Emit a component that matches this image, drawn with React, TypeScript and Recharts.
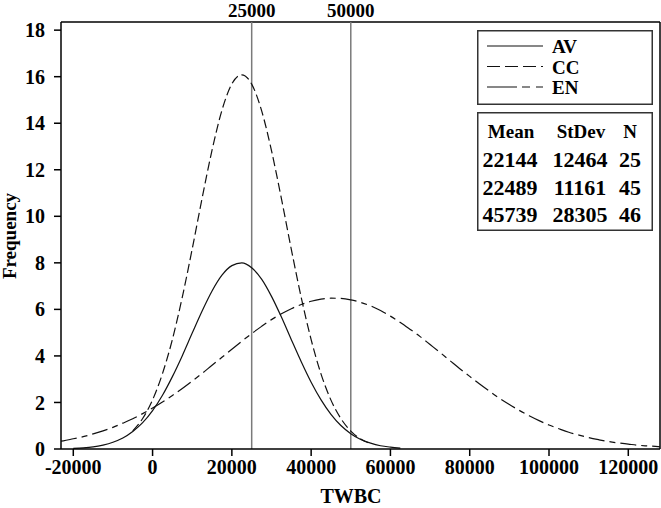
import { LineChart, Line, XAxis, YAxis, ReferenceLine, Label } from "recharts";

// TWBC positions, one list per group
const avTwbc = [
  -20000, -17500, -15000, -12500, -10000, -7500, -5000, -2500, 0, 2500, 5000, 7500,
  10000, 12500, 15000, 17500, 20000, 22500, 25000, 27500, 30000, 32500, 35000, 37500,
  40000, 42500, 45000, 47500, 50000, 52500, 55000, 57500, 60000, 62500,
];
const avFreq = [
  0.03, 0.05, 0.09, 0.17, 0.29, 0.47, 0.75, 1.13, 1.65, 2.31, 3.11, 4.01,
  4.98, 5.93, 6.79, 7.47, 7.88, 8.0, 7.79, 7.3, 6.56, 5.67, 4.7, 3.75,
  2.87, 2.11, 1.49, 1.01, 0.66, 0.41, 0.25, 0.14, 0.08, 0.04,
];

const ccTwbc = [
  -5000, -2500, 0, 2500, 5000, 7500, 10000, 12500, 15000, 17500, 20000, 22500,
  25000, 27500, 30000, 32500, 35000, 37500, 40000, 42500, 45000, 47500, 50000, 52500, 55000,
];
const ccFreq = [
  0.78, 1.31, 2.11, 3.24, 4.71, 6.53, 8.6, 10.78, 12.84, 14.56, 15.69, 16.08,
  15.68, 14.54, 12.82, 10.76, 8.58, 6.51, 4.7, 3.22, 2.1, 1.31, 0.77, 0.43, 0.23,
];

const enTwbc = [
  -23100, -22500, -20000, -17500, -15000, -12500, -10000, -7500, -5000, -2500, 0, 2500,
  5000, 7500, 10000, 12500, 15000, 17500, 20000, 22500, 25000, 27500, 30000, 32500,
  35000, 37500, 40000, 42500, 45000, 47500, 50000, 52500, 55000, 57500, 60000, 62500,
  65000, 67500, 70000, 72500, 75000, 77500, 80000, 82500, 85000, 87500, 90000, 92500,
  95000, 97500, 100000, 102500, 105000, 107500, 110000, 112500, 115000, 117500, 120000, 122500,
  125000, 127500, 128000,
];
const enFreq = [
  0.34, 0.35, 0.44, 0.53, 0.65, 0.78, 0.93, 1.11, 1.3, 1.52, 1.76, 2.02,
  2.3, 2.6, 2.92, 3.25, 3.6, 3.94, 4.29, 4.63, 4.96, 5.27, 5.56, 5.81,
  6.03, 6.21, 6.35, 6.44, 6.48, 6.47, 6.41, 6.3, 6.15, 5.95, 5.71, 5.44,
  5.14, 4.83, 4.49, 4.15, 3.8, 3.45, 3.12, 2.79, 2.48, 2.18, 1.91, 1.66,
  1.43, 1.22, 1.03, 0.87, 0.72, 0.6, 0.49, 0.4, 0.32, 0.26, 0.21, 0.16,
  0.13, 0.1, 0.09,
];

const xTicks = [-20000, 0, 20000, 40000, 60000, 80000, 100000, 120000];
const yTicks = [0, 2, 4, 6, 8, 10, 12, 14, 16, 18];
const markers = [25000, 50000];

const groups = ["AV", "CC", "EN"];
const means = [22144, 22489, 45739];
const stDevs = [12464, 11161, 28305];
const counts = [25, 45, 46];

const X_MIN = -23100;
const X_MAX = 128000;
const Y_MAX = 18.35;

const toPoints = (xs: number[], ys: number[]) => xs.map((x, i) => ({ x, y: ys[i] }));

const avData = toPoints(avTwbc, avFreq);
const ccData = toPoints(ccTwbc, ccFreq);
const enData = toPoints(enTwbc, enFreq);

const INK = "#111";
const tickStyle = { fill: "#000", fontSize: 20, fontWeight: 700 };

// legend swatches, same dash style as the curves
const legendDash = ["", "13 5", "30 5 8 6"];
const lineDash = ["", "9 4", "16 5 6 5"];

function LegendBox() {
  return (
    <svg
      width={176}
      height={75}
      style={{ position: "absolute", left: 477, top: 30, overflow: "visible" }}
    >
      <rect x={0.75} y={0.75} width={174.5} height={73.5} fill="#fff" stroke="#333" strokeWidth={1.5} />
      {groups.map((g, i) => (
        <g key={g}>
          <line
            x1={10}
            x2={66}
            y1={16 + i * 20.5}
            y2={16 + i * 20.5}
            stroke={INK}
            strokeWidth={1.2}
            strokeDasharray={legendDash[i] || undefined}
          />
          <text x={75} y={23 + i * 20.5} fontSize={19} fontWeight={700} fill="#000">
            {g}
          </text>
        </g>
      ))}
    </svg>
  );
}

function StatsBox() {
  const cols = [33, 103, 153];
  return (
    <svg
      width={175}
      height={119}
      style={{ position: "absolute", left: 477, top: 112, overflow: "visible" }}
    >
      <rect x={0.75} y={0.75} width={174.5} height={117.5} fill="#fff" stroke="#333" strokeWidth={1.5} />
      {["Mean", "StDev", "N"].map((h, i) => (
        <text key={h} x={cols[i] + (i === 2 ? 0 : 1)} y={25.5} textAnchor="middle" fontSize={19} fontWeight={700}>
          {h}
        </text>
      ))}
      {groups.map((g, r) => (
        <g key={g} fontSize={22} fontWeight={700}>
          <text x={cols[0]} y={55 + r * 27.6} textAnchor="middle">{means[r]}</text>
          <text x={cols[1]} y={55 + r * 27.6} textAnchor="middle">{stDevs[r]}</text>
          <text x={cols[2]} y={55 + r * 27.6} textAnchor="middle">{counts[r]}</text>
        </g>
      ))}
    </svg>
  );
}

export default function App() {
  return (
    <div
      style={{
        position: "absolute",
        left: 0,
        top: 0,
        width: 661,
        height: 508,
        background: "#fff",
        fontFamily: "'Liberation Serif', 'Times New Roman', serif",
      }}
    >
      <LineChart width={661} height={508} margin={{ top: 22, right: 1, bottom: 0, left: 0 }}>
        <XAxis
          type="number"
          dataKey="x"
          domain={[X_MIN, X_MAX]}
          ticks={xTicks}
          allowDataOverflow
          height={59}
          tick={tickStyle}
          tickSize={7}
          tickMargin={4}
          stroke="#000"
          strokeWidth={1.5}
        >
          <Label
            content={() => (
              <text x={351} y={503} textAnchor="middle" fontSize={20} fontWeight={700} fill="#000">
                TWBC
              </text>
            )}
          />
        </XAxis>
        <YAxis
          type="number"
          dataKey="y"
          domain={[0, Y_MAX]}
          ticks={yTicks}
          allowDataOverflow
          width={61}
          tick={tickStyle}
          tickSize={7}
          tickMargin={9}
          stroke="#000"
          strokeWidth={1.5}
        >
          <Label
            content={() => (
              <text
                x={15.5}
                y={236}
                transform="rotate(-90 15.5 236)"
                textAnchor="middle"
                fontSize={19}
                fontWeight={700}
                fill="#000"
              >
                Frequency
              </text>
            )}
          />
        </YAxis>

        {/* closing the frame on top and right */}
        <ReferenceLine y={Y_MAX} stroke="#000" strokeWidth={1.5} />
        <ReferenceLine x={X_MAX} stroke="#000" strokeWidth={1.5} />

        {markers.map((m) => (
          <ReferenceLine
            key={m}
            x={m}
            stroke="#7a7a7a"
            strokeWidth={1.5}
            label={{ value: String(m), position: "top", offset: 5, fill: "#000", fontSize: 19, fontWeight: 700 }}
          />
        ))}

        <Line
          data={enData}
          dataKey="y"
          type="monotone"
          stroke={INK}
          strokeWidth={1.2}
          strokeDasharray={lineDash[2]}
          dot={false}
          isAnimationActive={false}
        />
        <Line
          data={ccData}
          dataKey="y"
          type="monotone"
          stroke={INK}
          strokeWidth={1.2}
          strokeDasharray={lineDash[1]}
          dot={false}
          isAnimationActive={false}
        />
        <Line
          data={avData}
          dataKey="y"
          type="monotone"
          stroke={INK}
          strokeWidth={1.2}
          dot={false}
          isAnimationActive={false}
        />
      </LineChart>
      <LegendBox />
      <StatsBox />
    </div>
  );
}
